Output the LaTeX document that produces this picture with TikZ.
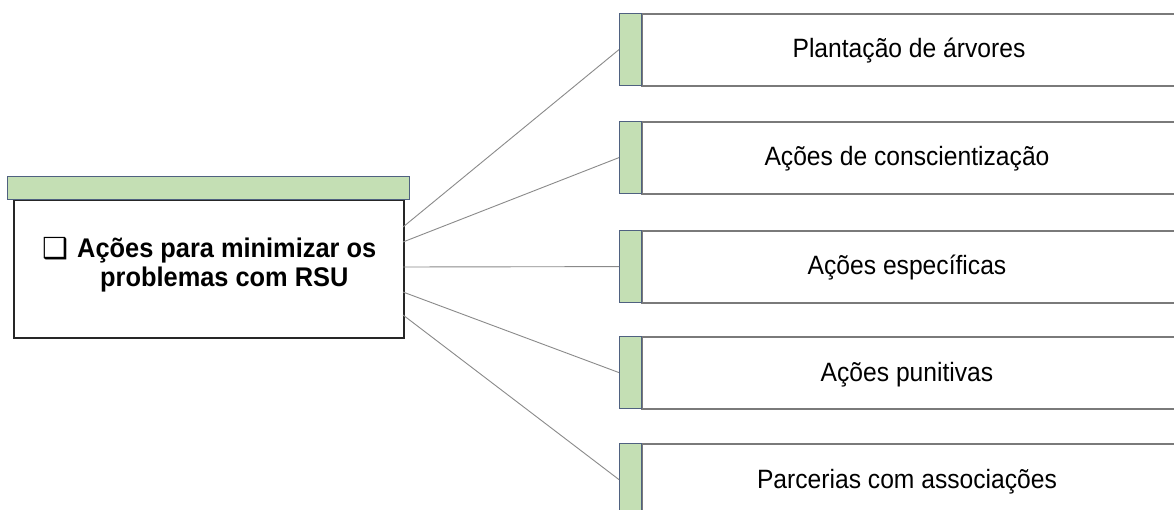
\documentclass[tikz,border=0pt]{standalone}
\usepackage{fontspec}
\setmainfont{Liberation Sans}
\newfontfamily\rfont[FakeStretch=0.93]{Liberation Sans}
\newfontfamily\lfont[FakeStretch=0.94]{Liberation Sans}
\newfontfamily\symfont{DejaVu Sans}
\definecolor{bargreen}{HTML}{C4DFB4}
\definecolor{barborder}{HTML}{4F6180}
\definecolor{boxgray}{HTML}{7A7A7A}
\definecolor{connGray}{HTML}{8A8A8A}
\begin{document}
\begin{tikzpicture}[x=1pt,y=-1pt,
  greenbar/.style={draw=barborder, fill=bargreen, line width=1.2pt, rectangle, inner sep=0pt, anchor=north west},
  rbox/.style={draw=boxgray, fill=white, line width=1.8pt, rectangle, inner sep=0pt, anchor=north west, minimum width=560pt, minimum height=72pt},
  lbox/.style={draw=black!85, fill=white, line width=1.6pt, rectangle, inner sep=0pt, anchor=north west},
  rtext/.style={anchor=base, inner sep=0pt, font=\rfont\fontsize{26.5}{30}\selectfont, text=black},
  conn/.style={draw=connGray, line width=0.9pt}]
\useasboundingbox (0,0) rectangle (1174,510);
\fill[white] (0,0) rectangle (1174,510);

% left box
\node[lbox, minimum width=390pt, minimum height=138pt] (lbox) at (13,199) {};
\node[greenbar, minimum width=402pt, minimum height=23pt] (lbar) at (7,176) {};
\node[anchor=base west, inner sep=0pt, font=\symfont\fontsize{29}{29}\selectfont] (chk) at (42,259) {❑};
\node[anchor=north west, align=left, inner sep=0pt, font=\lfont\bfseries\fontsize{27}{29}\selectfont] (ltext) at (77,238) {Ações para minimizar os\\\hspace*{23pt}problemas com RSU};

% right boxes
\node[rbox] (box1) at (641,13) {};
\node[greenbar, minimum width=22pt, minimum height=72pt] (bar1) at (619,13) {};
\node[rtext] (t1) at (909,58) {Plantação de árvores};

\node[rbox] (box2) at (641,121) {};
\node[greenbar, minimum width=22pt, minimum height=72pt] (bar2) at (619,121) {};
\node[rtext] (t2) at (907,166) {Ações de conscientização};

\node[rbox] (box3) at (641,230) {};
\node[greenbar, minimum width=22pt, minimum height=72pt] (bar3) at (619,230) {};
\node[rtext] (t3) at (907,275) {Ações específicas};

\node[rbox] (box4) at (641,336) {};
\node[greenbar, minimum width=22pt, minimum height=72pt] (bar4) at (619,336) {};
\node[rtext] (t4) at (907,381) {Ações punitivas};

\node[rbox] (box5) at (641,443) {};
\node[greenbar, minimum width=22pt, minimum height=72pt] (bar5) at (619,443) {};
\node[rtext] (t5) at (907,488) {Parcerias com associações};

% connectors
\coordinate (c1) at (403,227);
\coordinate (c2) at (403,242);
\coordinate (c3) at (403,267);
\coordinate (c4) at (403,292);
\coordinate (c5) at (403,315);
\draw[conn] (c1) -- (bar1.west);
\draw[conn] (c2) -- (bar2.west);
\draw[conn] (c3) -- (bar3.west);
\draw[conn] (c4) -- (bar4.west);
\draw[conn] (c5) -- (bar5.west);
\end{tikzpicture}
\end{document}
